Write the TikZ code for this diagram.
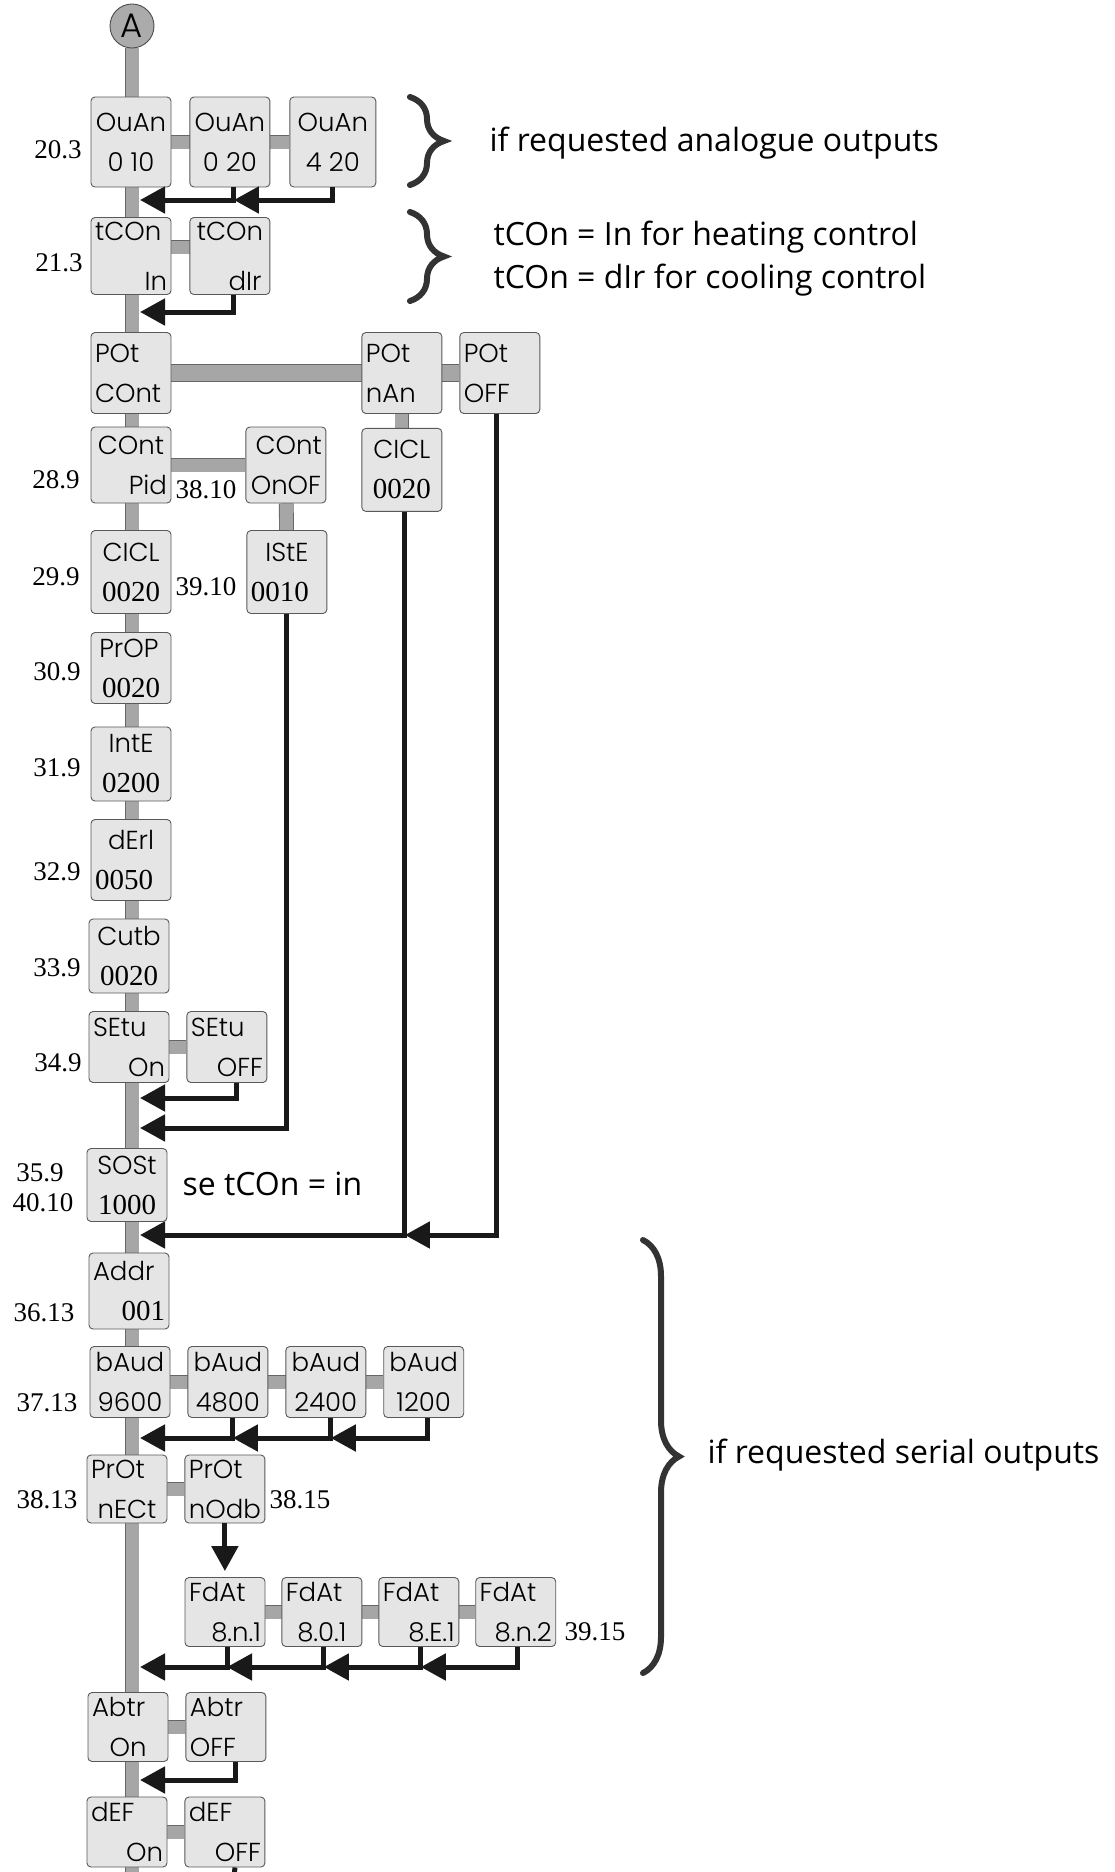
\documentclass[tikz,border=0pt]{standalone}
\usepackage{fontspec}
\usetikzlibrary{positioning,arrows.meta,backgrounds,decorations.pathreplacing}
\newfontfamily\boxfont{Poppins}[UprightFont=* Light]
\newfontfamily\serfont{Liberation Serif}
\newfontfamily\notefont{Open Sans}
\newcommand{\bxf}{\boxfont\fontsize{26}{40}\selectfont}
\newcommand{\nm}{\serfont\fontsize{29}{40}\selectfont}
\newcommand{\disp}[5][0pt]{\makebox[72pt][#2]{#3}\\[#1]\makebox[72pt][#4]{#5}}

\begin{document}
\begin{tikzpicture}[x=1pt,y=-1pt,
  box/.style={draw=black!65,fill=black!10,rounded corners=4pt,line width=0.9pt,
    minimum width=80pt,minimum height=72pt,inner sep=0pt,align=center,font=\bxf},
  disc/.style={circle,draw=black!70,fill=black!33,line width=0.9pt,minimum size=44pt,
    inner sep=0pt,font=\boxfont\fontsize{34}{36}\selectfont},
  lbl/.style={font=\serfont\fontsize{27}{30}\selectfont},
  bar/.style={draw=black!60,double=black!35,double distance=13pt,line width=0.9pt},
  flow/.style={-{Triangle[length=25pt,width=26pt]},line width=5pt,black!90},
  note/.style={anchor=west,font=\notefont\fontsize{32}{38}\selectfont},
  curly/.style={decorate,decoration={brace,amplitude=#1},line width=6pt,black!80,line cap=round}]
  \useasboundingbox (0,0) rectangle (1115,1872);

  \node[disc] (A) at (132,26) {A};
  \coordinate (end) at (132,1880);

  % analogue outputs
  \node[box,minimum height=90pt] (ou1) at (131,142) {\disp{c}{OuAn}{c}{0 10}};
  \node[box,minimum height=90pt,right=18pt of ou1] (ou2) {\disp{c}{OuAn}{c}{0 20}};
  \node[box,minimum height=90pt,minimum width=86pt,right=19pt of ou2] (ou3) {\disp{c}{OuAn}{c}{4 20}};
  \node[box,minimum height=77pt] (tc1) at (131,256) {\disp[10pt]{l}{tCOn}{r}{In}};
  \node[box,minimum height=77pt,right=18pt of tc1] (tc2) {\disp[10pt]{c}{tCOn}{r}{dIr\,}};

  % control type
  \node[box,minimum height=81pt] (po1) at (131,373) {\disp{l}{POt}{l}{COnt}};
  \node[box,minimum height=81pt,right=190pt of po1] (po2) {\disp{l}{POt}{l}{nAn}};
  \node[box,minimum height=81pt,right=17pt of po2] (po3) {\disp{l}{POt}{l}{OFF}};
  \node[box,minimum height=83pt,below=14pt of po2] (ci2) {\disp{c}{CICL}{c}{\nm 0020}};
  \node[box,minimum height=76pt] (co1) at (131,465) {\disp{c}{COnt}{r}{Pid}};
  \node[box,minimum height=76pt,right=74pt of co1] (co2) {\disp{r}{COnt}{c}{OnOF}};
  \node[box,minimum height=83pt] (ci1) at (131,572) {\disp{c}{CICL}{c}{\nm 0020}};
  \node[box,minimum height=83pt,right=75pt of ci1] (is1) {\disp{c}{IStE}{l}{\nm 0010}};
  \node[box,minimum height=71pt] (pr) at (131,668) {\disp{l}{\,PrOP}{c}{\nm 0020}};
  \node[box,minimum height=74pt] (in) at (131,764) {\disp{c}{IntE}{c}{\nm 0200}};
  \node[box,minimum height=81pt] (de) at (131,860) {\disp{c}{dErl}{l}{\nm 0050}};
  \node[box,minimum height=74pt] (cu) at (129,956) {\disp{c}{Cutb}{c}{\nm 0020}};
  \node[box,minimum height=71pt] (se1) at (129,1047) {\disp{l}{SEtu}{r}{On}};
  \node[box,minimum height=71pt,right=17pt of se1] (se2) {\disp{l}{SEtu}{r}{OFF}};
  \node[box,minimum height=73pt] (so) at (127,1185) {\disp{c}{SOSt}{c}{\nm 1000}};

  % serial outputs
  \node[box,minimum height=76pt] (ad) at (129,1291) {\disp{l}{Addr}{r}{\nm 001}};
  \node[box,minimum height=71pt] (ba1) at (130,1382) {\disp{c}{bAud}{c}{9600}};
  \node[box,minimum height=71pt,right=17pt of ba1] (ba2) {\disp{c}{bAud}{c}{4800}};
  \node[box,minimum height=71pt,right=17pt of ba2] (ba3) {\disp{c}{bAud}{c}{2400}};
  \node[box,minimum height=71pt,right=17pt of ba3] (ba4) {\disp{c}{bAud}{c}{1200}};
  \node[box,minimum height=68pt] (pt1) at (127,1489) {\disp{l}{PrOt}{c}{nECt}};
  \node[box,minimum height=68pt,right=17pt of pt1] (pt2) {\disp{l}{PrOt}{c}{nOdb}};
  \node[box,minimum height=69pt] (fd1) at (225,1612) {\disp{l}{FdAt}{r}{8.n.1}};
  \node[box,minimum height=69pt,right=16pt of fd1] (fd2) {\disp{l}{FdAt}{c}{8.0.1}};
  \node[box,minimum height=69pt,right=16pt of fd2] (fd3) {\disp{l}{FdAt}{r}{8.E.1}};
  \node[box,minimum height=69pt,right=16pt of fd3] (fd4) {\disp{l}{FdAt}{r}{8.n.2}};
  \node[box,minimum height=69pt] (ab1) at (128,1727) {\disp{l}{Abtr}{c}{On}};
  \node[box,minimum height=69pt,right=17pt of ab1] (ab2) {\disp{l}{Abtr}{l}{OFF}};
  \node[box,minimum height=70pt] (df1) at (127,1832) {\disp{l}{dEF}{r}{On}};
  \node[box,minimum height=70pt,right=17pt of df1] (df2) {\disp{l}{dEF}{r}{OFF}};

  % parameter numbers
  \node[lbl] (l203) at (58,150) {20.3};
  \node[lbl] (l213) at (59,263) {21.3};
  \node[lbl] (l289) at (56,480) {28.9};
  \node[lbl] (l3810) at (206,490) {38.10};
  \node[lbl] (l299) at (56,577) {29.9};
  \node[lbl] (l3910) at (206,587) {39.10};
  \node[lbl] (l309) at (57,672) {30.9};
  \node[lbl] (l319) at (57,768) {31.9};
  \node[lbl] (l329) at (57,872) {32.9};
  \node[lbl] (l339) at (57,968) {33.9};
  \node[lbl] (l349) at (58,1063) {34.9};
  \node[lbl] (l359) at (40,1173) {35.9};
  \node[lbl] (l4010) at (43,1203) {40.10};
  \node[lbl] (l3613) at (44,1313) {36.13};
  \node[lbl] (l3713) at (47,1403) {37.13};
  \node[lbl] (l3813) at (47,1500) {38.13};
  \node[lbl] (l3815) at (300,1500) {38.15};
  \node[lbl] (l3915) at (595,1632) {39.15};

  % notes
  \draw[curly=34pt] (410,97) -- (410,185);
  \draw[curly=34pt] (410,212) -- (410,301);
  \draw[curly=36pt] (643,1240) -- (643,1673);
  \node[note] (n1) at (486,143) {if requested analogue outputs};
  \node[note] (n2) at (490,237) {tCOn = In for heating control};
  \node[note] (n3) at (490,280) {tCOn = dIr for cooling control};
  \node[note] (n4) at (179,1184) {se tCOn = in};
  \node[note] (n5) at (704,1455) {if requested serial outputs};

  % links
  \begin{scope}[on background layer]
    \draw[bar] (A) -- (end);
    \draw[bar] (ou1) -- (ou3);
    \draw[bar] ([yshift=9pt]tc1.center) -- ([yshift=9pt]tc2.center);
    \draw[bar,double distance=16pt] (po1) -- (po3);
    \draw[bar] (po2) -- (ci2);
    \draw[bar] (co1) -- (co2);
    \draw[bar] (co2) -- (is1);
    \draw[bar] (se1) -- (se2);
    \draw[bar] (ba1) -- (ba4);
    \draw[bar] (pt1) -- (pt2);
    \draw[bar] (fd1) -- (fd4);
    \draw[bar] (ab1) -- (ab2);
    \draw[bar] (df1) -- (df2);
  \end{scope}

  % returns to the main line
  \coordinate (r1) at (140,200);
  \coordinate (r2) at (140,312);
  \coordinate (r3) at (140,1098);
  \coordinate (r4) at (140,1128);
  \coordinate (r5) at (140,1235);
  \coordinate (r6) at (140,1438);
  \coordinate (r7) at (140,1667);
  \coordinate (r8) at (140,1780);
  \coordinate (out) at (234,1880);
  \draw[flow] ([xshift=4pt]ou2.south) |- (r1);
  \draw[flow] (ou3.south) |- ([xshift=4pt]ou2.south |- r1);
  \draw[flow] ([xshift=4pt]tc2.south) |- (r2);
  \draw[flow] ([xshift=10pt]se2.south) |- (r3);
  \draw[flow] (is1.south) |- (r4);
  \draw[flow] ([xshift=3pt]ci2.south) |- (r5);
  \draw[flow] ([xshift=-3pt]po3.south) |- ([xshift=3pt]ci2.south |- r5);
  \draw[flow] ([xshift=5pt]ba2.south) |- (r6);
  \draw[flow] ([xshift=5pt]ba3.south) |- ([xshift=5pt]ba2.south |- r6);
  \draw[flow] ([xshift=4pt]ba4.south) |- ([xshift=5pt]ba3.south |- r6);
  \draw[flow] (pt2.south) -- ([yshift=6pt]pt2.south |- fd1.north);
  \draw[flow] ([xshift=2pt]fd1.south) |- (r7);
  \draw[flow] ([xshift=2pt]fd2.south) |- ([xshift=2pt]fd1.south |- r7);
  \draw[flow] ([xshift=2pt]fd3.south) |- ([xshift=2pt]fd2.south |- r7);
  \draw[flow] ([xshift=2pt]fd4.south) |- ([xshift=2pt]fd3.south |- r7);
  \draw[flow] ([xshift=10pt]ab2.south) |- (r8);
  \draw[line width=5pt,black!90] ([xshift=10pt]df2.south) -- (out);
\end{tikzpicture}
\end{document}
